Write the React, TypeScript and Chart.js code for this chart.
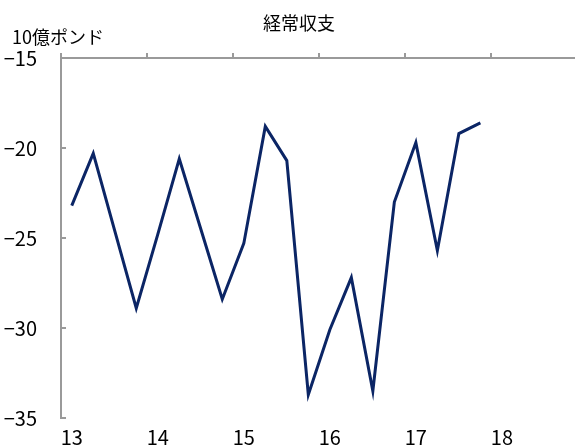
import React, { useEffect, useRef } from 'react';
import { Chart, registerables } from 'chart.js';

Chart.register(...registerables);

// ---- data ----
const chartTitle = '経常収支';
const unitLabel = '10億ポンド';
const yearLabels = ['13', '14', '15', '16', '17', '18'];
// quarterly current account balance, 2013Q1 .. 2017Q4 (billion GBP)
const balance = [
  -23.2, -20.3, -24.6, -28.9,
  -24.8, -20.6, -24.5, -28.4,
  -25.3, -18.8, -20.7, -33.7,
  -30.1, -27.2, -33.5, -23.0,
  -19.7, -25.7, -19.2, -18.6,
];
const yTickValues = [-35, -30, -25, -20, -15];
const yMin = -35;
const yMax = -15;

const FONT = '"Noto Sans CJK JP", "Noto Sans", sans-serif';
const NUMFONT = '"Liberation Sans Narrow", "Noto Sans CJK JP", sans-serif';
const AXIS = '#9a9a9a';
const LINE = '#0b2565';

const fmt = (v: number) => (v < 0 ? '\u2212' + Math.abs(v) : String(v));

const decorPlugin = {
  id: 'decor',
  afterDraw(chart: any) {
    const { ctx, chartArea, scales } = chart;
    ctx.save();
    // inward ticks on the y axis
    ctx.strokeStyle = AXIS;
    ctx.lineWidth = 2;
    yTickValues.forEach((v) => {
      const py = Math.round(scales.y.getPixelForValue(v));
      ctx.beginPath();
      ctx.moveTo(chartArea.left, py);
      ctx.lineTo(chartArea.left + 5, py);
      ctx.stroke();
    });
    // title and unit
    ctx.fillStyle = '#000';
    ctx.textBaseline = 'middle';
    ctx.textAlign = 'center';
    ctx.font = `18px ${FONT}`;
    ctx.fillText(chartTitle, 299, 23);
    ctx.textAlign = 'left';
    ctx.font = `18px ${NUMFONT}`;
    ctx.fillText(unitLabel, 12, 37);
    ctx.restore();
  },
};

export default function App() {
  const ref = useRef<HTMLCanvasElement | null>(null);

  useEffect(() => {
    document.body.style.margin = '0';
    const canvas = ref.current;
    if (!canvas) return;
    const points = balance.map((v, i) => ({ x: i + 0.5, y: v }));
    const chart = new Chart(canvas, {
      type: 'line',
      data: {
        datasets: [
          {
            data: points,
            borderColor: LINE,
            borderWidth: 3,
            pointRadius: 0,
            tension: 0,
            fill: false,
            xAxisID: 'x2',
            yAxisID: 'y',
          },
        ],
      },
      options: {
        animation: false,
        responsive: false,
        devicePixelRatio: 1,
        layout: { padding: 0 },
        plugins: {
          legend: { display: false },
          tooltip: { enabled: false },
          title: { display: false },
        },
        scales: {
          x: {
            type: 'linear',
            position: 'top',
            min: 0,
            max: 23.9,
            afterBuildTicks: (s: any) => {
              s.ticks = [0, 4, 8, 12, 16, 20].map((v) => ({ value: v }));
            },
            afterFit: (s: any) => {
              s.height = 58;
              s.paddingLeft = 0;
              s.paddingRight = 0;
            },
            ticks: { display: false },
            grid: {
              display: true,
              drawOnChartArea: false,
              drawTicks: true,
              tickLength: 5,
              color: AXIS,
              lineWidth: 2,
            },
            border: { display: true, color: AXIS, width: 2 },
          },
          x2: {
            type: 'linear',
            position: 'bottom',
            min: 0,
            max: 23.9,
            afterBuildTicks: (s: any) => {
              s.ticks = yearLabels.map((_, k) => ({ value: 0.5 + 4 * k }));
            },
            afterFit: (s: any) => {
              s.height = 27;
              s.paddingLeft = 0;
              s.paddingRight = 0;
            },
            ticks: {
              autoSkip: false,
              maxRotation: 0,
              padding: 7,
              color: '#000',
              font: { family: NUMFONT, size: 20 },
              callback: (_v: any, idx: number) => yearLabels[idx],
            },
            grid: { display: false, drawTicks: false },
            border: { display: false },
          },
          y: {
            type: 'linear',
            position: 'left',
            min: yMin,
            max: yMax,
            afterBuildTicks: (s: any) => {
              s.ticks = yTickValues.map((v) => ({ value: v }));
            },
            afterFit: (s: any) => {
              s.width = 61;
              s.paddingTop = 0;
              s.paddingBottom = 0;
            },
            ticks: {
              padding: 24,
              color: '#000',
              font: { family: NUMFONT, size: 20 },
              callback: (v: any) => fmt(Number(v)),
            },
            grid: { display: false, drawTicks: false },
            border: { display: true, color: AXIS, width: 2 },
          },
        },
      },
      plugins: [decorPlugin],
    } as any);
    return () => chart.destroy();
  }, []);

  return (
    <canvas
      ref={ref}
      width={575}
      height={445}
      style={{ display: 'block', width: 575, height: 445 }}
    />
  );
}
